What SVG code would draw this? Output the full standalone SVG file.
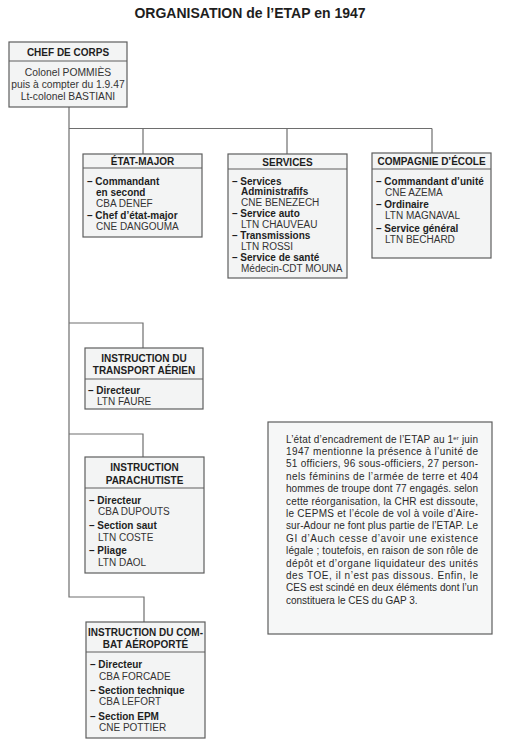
<svg xmlns="http://www.w3.org/2000/svg" width="511" height="748" viewBox="0 0 511 748">
<style>
text{font-family:"Liberation Sans",Arial,sans-serif;fill:#1e1e1e}
.box{fill:#f3f4f4;stroke:#5e5e5e;stroke-width:1.2}
.dv{stroke:#5e5e5e;stroke-width:1}
.conn{fill:none;stroke:#6e6e6e;stroke-width:1.2}
.hd{font-size:10px;font-weight:bold;text-anchor:middle}
.it{font-size:10px;font-weight:bold}
.nm{font-size:10px;fill:#333}
.cb{font-size:10.3px;fill:#333;text-anchor:middle}
.tx{font-size:10px;fill:#2a2a2a}
</style>
<rect width="511" height="748" fill="#ffffff"/>
<text x="250" y="18" font-size="14" font-weight="bold" text-anchor="middle">ORGANISATION de l’ETAP en 1947</text>

<g id="connectors">
<path class="conn" d="M69,107 V597 H144 V622"/>
<path class="conn" d="M69,128.5 H432"/>
<path class="conn" d="M143,128.5 V154"/>
<path class="conn" d="M287,128.5 V154"/>
<path class="conn" d="M432,128.5 V153"/>
<path class="conn" d="M69,323 H143 V348"/>
<path class="conn" d="M69,434 H143 V457"/>
</g>

<g id="chef">
<rect class="box" x="9" y="42" width="118" height="65"/>
<line class="dv" x1="9" y1="61" x2="127" y2="61"/>
<text class="hd" x="68" y="55.8" font-size="10.5">CHEF DE CORPS</text>
<text class="cb" x="68" y="75.5">Colonel POMMIÈS</text>
<text class="cb" x="68" y="87.5">puis à compter du 1.9.47</text>
<text class="cb" x="68" y="99.5">Lt-colonel BASTIANI</text>
</g>

<g id="etat-major">
<rect class="box" x="83" y="154" width="119" height="83"/>
<line class="dv" x1="83" y1="168" x2="202" y2="168"/>
<text class="hd" x="142.5" y="165">ÉTAT-MAJOR</text>
<text class="it" x="87" y="184.5">– Commandant</text>
<text class="it" x="96" y="195.5">en second</text>
<text class="nm" x="96" y="206.5">CBA DENEF</text>
<text class="it" x="87" y="218.5">– Chef d’état-major</text>
<text class="nm" x="96" y="229.5">CNE DANGOUMA</text>
</g>

<g id="services">
<rect class="box" x="228" y="154" width="119" height="124"/>
<line class="dv" x1="228" y1="169" x2="347" y2="169"/>
<text class="hd" x="287.5" y="165.5">SERVICES</text>
<text class="it" x="232" y="184.5">– Services</text>
<text class="it" x="241" y="195">Administrafifs</text>
<text class="nm" x="241" y="205.5">CNE BENEZECH</text>
<text class="it" x="232" y="217">– Service auto</text>
<text class="nm" x="241" y="227.5">LTN CHAUVEAU</text>
<text class="it" x="232" y="239">– Transmissions</text>
<text class="nm" x="241" y="249.5">LTN ROSSI</text>
<text class="it" x="232" y="261">– Service de santé</text>
<text class="nm" x="241" y="271.5">Médecin-CDT MOUNA</text>
</g>

<g id="compagnie">
<rect class="box" x="372" y="153" width="119" height="105"/>
<line class="dv" x1="372" y1="169" x2="491" y2="169"/>
<text class="hd" x="431.5" y="165">COMPAGNIE D’ÉCOLE</text>
<text class="it" x="376" y="184.5">– Commandant d’unité</text>
<text class="nm" x="385" y="195.5">CNE AZEMA</text>
<text class="it" x="376" y="208">– Ordinaire</text>
<text class="nm" x="385" y="219">LTN MAGNAVAL</text>
<text class="it" x="376" y="231.5">– Service général</text>
<text class="nm" x="385" y="242.5">LTN BECHARD</text>
</g>

<g id="transport">
<rect class="box" x="85" y="348" width="118" height="61"/>
<line class="dv" x1="85" y1="379" x2="203" y2="379"/>
<text class="hd" x="144" y="361.5">INSTRUCTION DU</text>
<text class="hd" x="144" y="373.5">TRANSPORT AÉRIEN</text>
<text class="it" x="88" y="393.5">– Directeur</text>
<text class="nm" x="97" y="404.5">LTN FAURE</text>
</g>

<g id="parachutiste">
<rect class="box" x="85" y="457" width="119" height="116"/>
<line class="dv" x1="85" y1="488" x2="204" y2="488"/>
<text class="hd" x="144.5" y="470.5">INSTRUCTION</text>
<text class="hd" x="144.5" y="483.5">PARACHUTISTE</text>
<text class="it" x="89" y="503.5">– Directeur</text>
<text class="nm" x="98" y="514.5">CBA DUPOUTS</text>
<text class="it" x="89" y="529">– Section saut</text>
<text class="nm" x="98" y="540.5">LTN COSTE</text>
<text class="it" x="89" y="554">– Pliage</text>
<text class="nm" x="98" y="566">LTN DAOL</text>
</g>

<g id="combat">
<rect class="box" x="86" y="622" width="119" height="116"/>
<line class="dv" x1="86" y1="652" x2="205" y2="652"/>
<text class="hd" x="145.5" y="635.5" font-size="9.7">INSTRUCTION DU COM-</text>
<text class="hd" x="145.5" y="648">BAT AÉROPORTÉ</text>
<text class="it" x="90" y="667.5">– Directeur</text>
<text class="nm" x="99" y="679.5">CBA FORCADE</text>
<text class="it" x="90" y="693.5">– Section technique</text>
<text class="nm" x="99" y="705">CBA LEFORT</text>
<text class="it" x="90" y="719.5">– Section EPM</text>
<text class="nm" x="99" y="731">CNE POTTIER</text>
</g>

<g id="note">
<rect class="box" x="268" y="422" width="224" height="212" style="fill:#f6f7f7"/>
<text class="tx" x="286" y="442.5" textLength="192" lengthAdjust="spacing">L’état d’encadrement de l’ETAP au 1<tspan font-size="6" baseline-shift="super">er</tspan> juin</text>
<text class="tx" x="286" y="454.9" textLength="192" lengthAdjust="spacing">1947 mentionne la présence à l’unité de</text>
<text class="tx" x="286" y="467.3" textLength="192" lengthAdjust="spacing">51 officiers, 96 sous-officiers, 27 person-</text>
<text class="tx" x="286" y="479.7" textLength="192" lengthAdjust="spacing">nels féminins de l’armée de terre et 404</text>
<text class="tx" x="286" y="492.1" textLength="192" lengthAdjust="spacing">hommes de troupe dont 77 engagés. selon</text>
<text class="tx" x="286" y="504.5" textLength="192" lengthAdjust="spacing">cette réorganisation, la CHR est dissoute,</text>
<text class="tx" x="286" y="516.9" textLength="192" lengthAdjust="spacing">le CEPMS et l’école de vol à voile d’Aire-</text>
<text class="tx" x="286" y="529.3" textLength="192" lengthAdjust="spacing">sur-Adour ne font plus partie de l’ETAP. Le</text>
<text class="tx" x="286" y="541.7" textLength="192" lengthAdjust="spacing">GI d’Auch cesse d’avoir une existence</text>
<text class="tx" x="286" y="554.1" textLength="192" lengthAdjust="spacing">légale ; toutefois, en raison de son rôle de</text>
<text class="tx" x="286" y="566.5" textLength="192" lengthAdjust="spacing">dépôt et d’organe liquidateur des unités</text>
<text class="tx" x="286" y="578.9" textLength="192" lengthAdjust="spacing">des TOE, il n’est pas dissous. Enfin, le</text>
<text class="tx" x="286" y="591.3" textLength="192" lengthAdjust="spacing">CES est scindé en deux éléments dont l’un</text>
<text class="tx" x="286" y="603.7">constituera le CES du GAP 3.</text>
</g>
</svg>
